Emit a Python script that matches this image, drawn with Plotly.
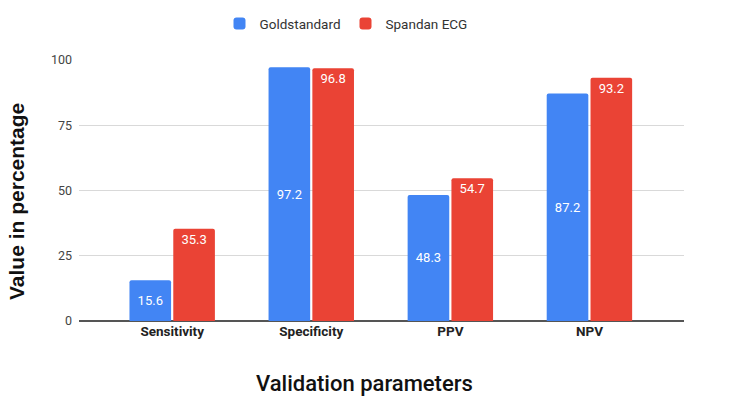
import plotly.graph_objects as go

categories = ["Sensitivity", "Specificity", "PPV", "NPV"]
gold = [15.6, 97.2, 48.3, 87.2]
spandan = [35.3, 96.8, 54.7, 93.2]
y_ticks = [0, 25, 50, 75, 100]

fig = go.Figure()
fig.add_trace(go.Bar(
    name="Goldstandard", x=categories, y=gold,
    marker=dict(color="#4285F4", line_width=0, cornerradius=2),
    text=[str(v) for v in gold], textposition="inside", insidetextanchor="middle",
    textfont=dict(color="white", size=13, family="Roboto"),
))
fig.add_trace(go.Bar(
    name="Spandan ECG", x=categories, y=spandan,
    marker=dict(color="#EA4335", line_width=0, cornerradius=2),
    text=[str(v) for v in spandan], textposition="inside", insidetextanchor="end",
    textfont=dict(color="white", size=13, family="Roboto"),
))

fig.update_layout(
    width=729, height=397,
    margin=dict(l=79, r=45, t=60, b=76, autoexpand=False),
    paper_bgcolor="white", plot_bgcolor="white",
    barmode="group", bargap=0.37, bargroupgap=0.05,
    font=dict(family="Roboto", color="#444"),
    showlegend=True,
    legend=dict(orientation="h", x=346 / 729, xanchor="center", xref="container",
                y=0.94, yanchor="middle", yref="container",
                font=dict(size=13.5, color="#333", family="Roboto"),
                itemsizing="constant", itemwidth=30),
    uniformtext=dict(minsize=8, mode="show"),
)
fig.update_xaxes(
    range=[-0.67, 3.68], showgrid=False, showline=False, ticks="",
    tickfont=dict(size=13.5, color="#222", family="Roboto", weight="bold"),
)
fig.update_yaxes(
    range=[0, 100], tickvals=y_ticks, gridcolor="#d9d9d9", gridwidth=1,
    zeroline=True, zerolinecolor="#555", zerolinewidth=1.5,
    tickfont=dict(size=12.5, color="#444"), ticklabelstandoff=6,
)
fig.add_annotation(text="Value in percentage", xref="paper", yref="paper",
                   x=(17 - 79) / 605, y=(321 - 202) / 261, textangle=-90, showarrow=False,
                   xanchor="center", yanchor="middle",
                   font=dict(size=21, color="#111", family="Liberation Sans", weight="bold"))
fig.add_annotation(text="Validation parameters", xref="paper", yref="paper",
                   x=(364.5 - 79) / 605, y=(321 - 383) / 261, showarrow=False,
                   xanchor="center", yanchor="middle",
                   font=dict(size=22, color="#111", family="Roboto", weight=500))

fig.write_html("out.html", config={"displayModeBar": False},
               post_script="document.body.style.margin='0';document.body.style.overflow='hidden';")
